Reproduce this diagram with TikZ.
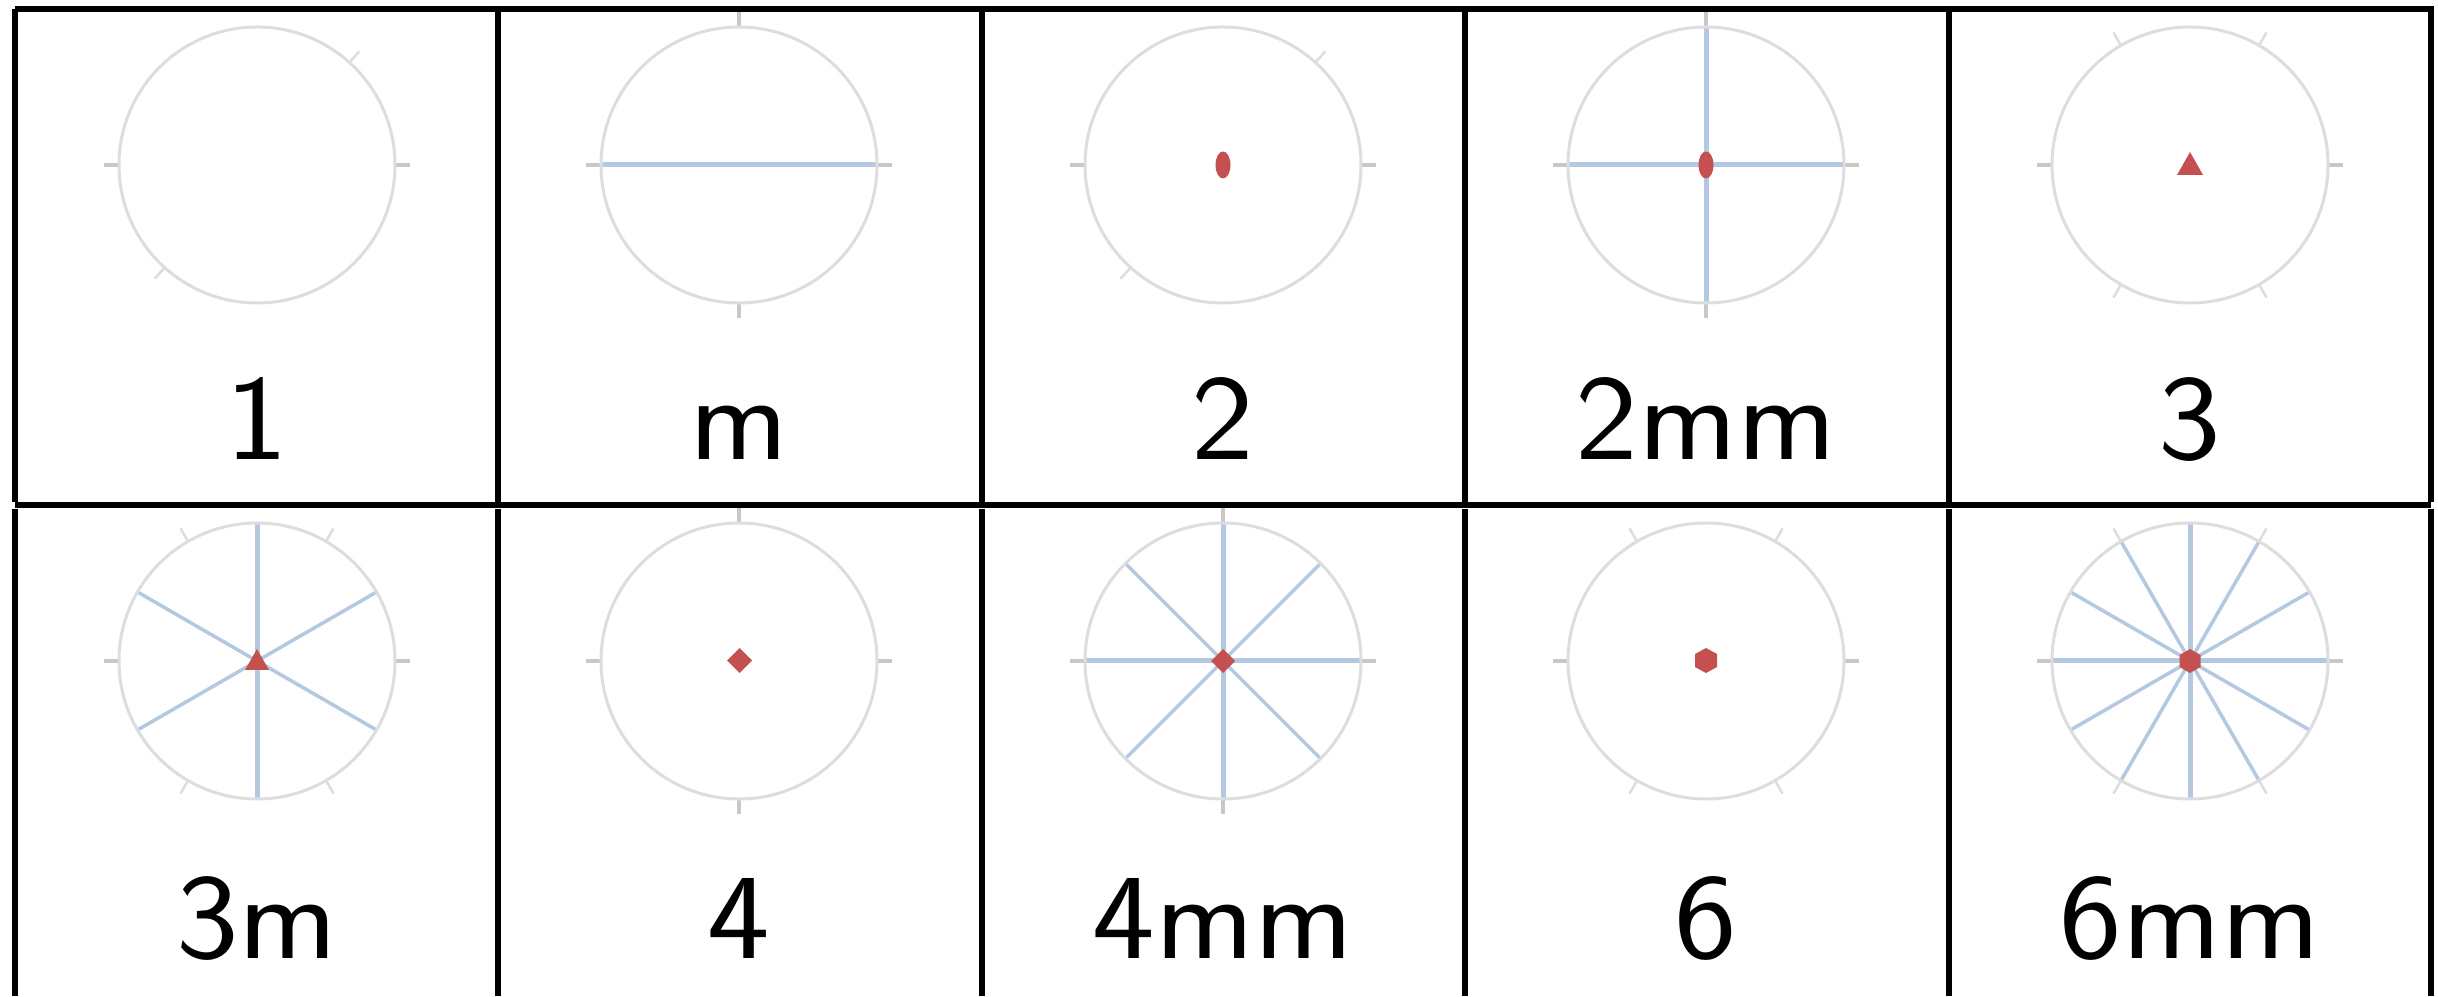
\documentclass[tikz,border=0pt]{standalone}
\usepackage{fontspec}
\definecolor{ringc}{HTML}{DDDDDD}
\definecolor{tickc}{HTML}{C8C8C8}
\definecolor{mirrorc}{HTML}{B4C8E2}
\definecolor{redc}{HTML}{C4504F}
\tikzset{
  x=1pt,y=1pt,
  gridline/.style={line width=6pt,black},
  ring/.style={draw=ringc,line width=3pt},
  tickh/.style={draw=tickc,line width=4.5pt},
  tickd/.style={draw=ringc,line width=2.5pt},
  mirrorh/.style={draw=mirrorc,line width=5pt},
  mirrord/.style={draw=mirrorc,line width=3.5pt},
  axisdot/.style={fill=redc,draw=none},
  captext/.style={font=\fontsize{122}{122}\sffamily,text=black,inner sep=0pt,anchor=base,xscale=1.09},
}
% ticks outside the ring
\newcommand{\TkH}[3]{\foreach \a in {#3}{\draw[tickh] (#1,#2)++(\a:138)--++(\a:15);}}
\newcommand{\TkD}[3]{\foreach \a in {#3}{\draw[tickd] (#1,#2)++(\a:138)--++(\a:15);}}
% mirrors inside the ring
\newcommand{\MrH}[3]{\foreach \a in {#3}{\draw[mirrorh] (#1,#2)--++(\a:138);}}
\newcommand{\MrD}[3]{\foreach \a in {#3}{\draw[mirrord] (#1,#2)--++(\a:138);}}
\begin{document}
\begin{tikzpicture}
\useasboundingbox (0,0) rectangle (2438,996);
\fill[white] (0,0) rectangle (2438,996);
\foreach \x/\nm/\l in {257/a/1,739/b/m,1223/c/2,1706/d/2mm,2190/e/3}{
  \node[captext] (t\nm) at (\x,536) {\l};
}
\foreach \x/\nm/\l in {257/f/3m,739/g/4,1223/h/4mm,1706/i/6,2190/j/6mm}{
  \node[captext] (t\nm) at (\x,38) {\l};
}
% mirrors
\MrH{739}{831}{0,180}
\MrH{1706}{831}{0,90,180,270}
\MrH{257}{335}{90,270}
\MrD{257}{335}{30,150,210,330}
\MrH{1223}{335}{0,90,180,270}
\MrD{1223}{335}{45,135,225,315}
\MrH{2190}{335}{0,90,180,270}
\MrD{2190}{335}{30,60,120,150,210,240,300,330}
% ticks
\TkH{257}{831}{0,180}\TkD{257}{831}{48,228}
\TkH{739}{831}{0,90,180,270}
\TkH{1223}{831}{0,180}\TkD{1223}{831}{48,228}
\TkH{1706}{831}{0,90,180,270}
\TkH{2190}{831}{0,180}\TkD{2190}{831}{60,120,240,300}
\TkH{257}{335}{0,180}\TkD{257}{335}{60,120,240,300}
\TkH{739}{335}{0,90,180,270}
\TkH{1223}{335}{0,90,180,270}
\TkH{1706}{335}{0,180}\TkD{1706}{335}{60,120,240,300}
\TkH{2190}{335}{0,180}\TkD{2190}{335}{60,120,240,300}
% rings
\foreach \x in {257,739,1223,1706,2190}{
  \draw[ring] (\x,831) circle (138);
  \draw[ring] (\x,335) circle (138);
}
% axis marks
\fill[axisdot] (1223,831) ellipse (7.5 and 13.5);
\fill[axisdot] (1706,831) ellipse (7.5 and 13.5);
\fill[axisdot] (2190,844) -- (2177,821) -- (2203,821) -- cycle;
\fill[axisdot] (257,347) -- (245,326) -- (269,326) -- cycle;
\fill[axisdot] (739.5,348) -- (752,335.5) -- (739.5,323) -- (727,335.5) -- cycle;
\fill[axisdot] (1223,347) -- (1235,335) -- (1223,323) -- (1211,335) -- cycle;
\fill[axisdot] (1706,348) -- (1717,342) -- (1717,329) -- (1706,323) -- (1695,329) -- (1695,342) -- cycle;
\fill[axisdot] (2190,347) -- (2200.5,341) -- (2200.5,329) -- (2190,323) -- (2179.5,329) -- (2179.5,341) -- cycle;
% grid
\foreach \x/\n in {15/0,498/1,982/2,1465/3,1949/4,2431/5}{
  \coordinate (gt\n) at (\x,987);
  \coordinate (gm\n) at (\x,494);
  \coordinate (gs\n) at (\x,487);
  \coordinate (gb\n) at (\x,0);
  \draw[gridline] (gt\n)--(gm\n);
  \draw[gridline] (gs\n)--(gb\n);
}
\coordinate (hl1) at (15,987); \coordinate (hr1) at (2434,987);
\coordinate (hl2) at (15,490.5); \coordinate (hr2) at (2431,490.5);
\draw[gridline] (hl1)--(hr1);
\draw[gridline] (hl2)--(hr2);
\end{tikzpicture}
\end{document}
